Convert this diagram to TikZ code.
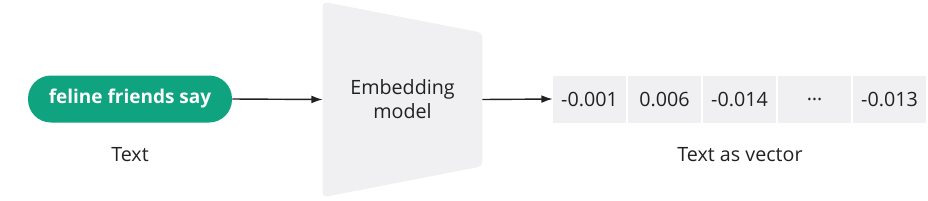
\documentclass[tikz,border=0pt]{standalone}
\usepackage{fontspec}
\setmainfont{Open Sans}
\usepackage{tikz}
\usetikzlibrary{arrows.meta,calc,positioning}
\definecolor{pillCol}{HTML}{10A37F}
\definecolor{boxCol}{HTML}{F0F0F2}
\definecolor{inkCol}{HTML}{202123}
\newcommand{\px}{0.025cm}
\tikzset{
  pill/.style={fill=pillCol, rounded corners=23*\px, minimum width=204*\px, minimum height=47*\px,
               font=\fontsize{13.5}{15}\selectfont\bfseries, text=white, inner sep=0pt},
  cell/.style={fill=boxCol, minimum width=73*\px, minimum height=47*\px, inner sep=0pt,
               font=\fontsize{14}{16}\selectfont, text=inkCol},
  caption/.style={font=\fontsize{14}{17}\selectfont, text=inkCol, inner sep=0pt},
  flow/.style={-{Latex[length=8pt,width=5.5pt]}, line width=1pt, inkCol},
}
\begin{document}
\begin{tikzpicture}[x=\px,y=-\px]
  \useasboundingbox (0,0) rectangle (928,200);
  \node[pill] (txt) at (130,99) {feline friends say};
  \node[caption] (txtlbl) at (130,155) {Text};

  % embedding model as a trapezoid around an empty frame
  \node[minimum width=159*\px, minimum height=195*\px, inner sep=0pt] (model) at (402.5,99.5) {};
  \fill[boxCol, rounded corners=3pt] (model.north west) -- ($(model.north east)+(0,31)$)
    -- ($(model.south east)+(0,-31)$) -- (model.south west) -- cycle;
  \node[caption, align=center] (modellbl) at (model.center) {Embedding\\model};

  \foreach \v [count=\i] in {-0.001,0.006,-0.014,\dots,-0.013}
    \node[cell] (c\i) at (553+36.5+75*\i-75,99) {\v};
  \node[caption] (veclbl) at (740,155) {Text as vector};

  \draw[flow] (txt.east) -- (model.west);
  \draw[flow] (model.east) -- (c1.west);
\end{tikzpicture}
\end{document}
